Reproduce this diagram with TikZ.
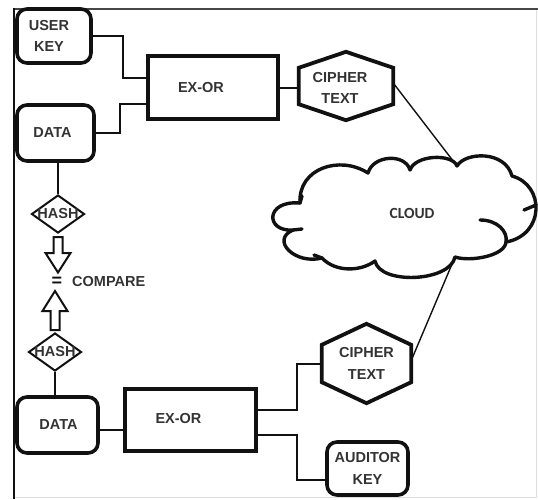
\documentclass[tikz,border=0pt]{standalone}
\usepackage{fontspec}
\setmainfont{Liberation Sans}
\newfontfamily\cloudfont{Carlito}
\usetikzlibrary{shapes.geometric,calc}
\definecolor{ink}{HTML}{111111}
\definecolor{txt}{HTML}{333333}
\begin{document}
\begin{tikzpicture}[x=1pt,y=-1pt,
  lbl/.style={font=\bfseries\fontsize{14.5}{21.5}\selectfont, text=txt, align=center},
  keybox/.style={lbl, draw=ink, line width=3.6pt, rounded corners=10pt, inner sep=0pt},
  xorbox/.style={lbl, draw=ink, line width=3.8pt, inner sep=0pt},
  hexlabel/.style={lbl, inner sep=0pt},
  hexline/.style={draw=ink, line width=3.8pt, line join=miter},
  hashbox/.style={diamond, draw=ink, line width=2pt, inner sep=0pt,
    label={[lbl]center:HASH}},
  cloudline/.style={draw=ink, line width=3.4pt, line cap=round, line join=round},
  wire/.style={draw=ink, line width=2pt},
  link/.style={draw=ink, line width=1.4pt},
  blockarrow/.style={draw=ink, line width=2pt, fill=white, line join=miter},
]
\useasboundingbox (0,0) rectangle (538,499);

% page frame
\draw[line width=0.8pt, gray!25] (536.5,9) -- (536.5,497.5) -- (14,497.5);
\draw[line width=2.4pt, gray!55!black] (13,9) -- (538,9);
\draw[line width=2pt, ink] (14,8) -- (14,499);

% upper (sending) side
\node[keybox, minimum width=74pt, minimum height=54pt,
  label={[lbl,xshift=-5pt]center:USER\\KEY}] (uk) at (54,36) {};
\node[keybox, minimum width=77pt, minimum height=56pt,
  label={[lbl,xshift=-3pt]center:DATA}] (data1) at (55.5,133) {};
\node[xorbox, minimum width=130pt, minimum height=63pt,
  label={[lbl,xshift=-12pt]center:EX-OR}] (ex1) at (213,87.5) {};
\node[hexlabel, minimum width=94pt, minimum height=68pt,
  label={[lbl,xshift=-6pt,yshift=-2pt]center:CIPHER\\TEXT}] (ct1) at (346,86) {};
\draw[hexline] (ct1.north) -- ($(ct1.north east)+(0,16)$) -- ($(ct1.south east)+(0,-16)$)
  -- (ct1.south) -- ($(ct1.south west)+(0,-16)$) -- ($(ct1.north west)+(0,16)$) -- cycle;

% cloud: hand-drawn outline made of puffs between notches
\node[font=\cloudfont\bfseries\fontsize{15.5}{18}\selectfont, text=txt, inner sep=0pt] (cl) at (412,213) {CLOUD};
\coordinate (cl-top) at (457,166);
\coordinate (cl-bot) at (455,257);
\draw[cloudline]
  (300,203) .. controls (298,168) and (340,155) .. (368,173)
  .. controls (373,155) and (405,153) .. (410,170)
  .. controls (415,155) and (452,153) .. (cl-top)
  .. controls (465,152) and (505,150) .. (512,176)
  .. controls (545,185) and (545,235) .. (506,242)
  .. controls (505,256) and (470,262) .. (cl-bot)
  .. controls (450,282) and (380,285) .. (375,261)
  .. controls (360,272) and (335,272) .. (322,258)
  .. controls (295,265) and (270,240) .. (293,230)
  .. controls (265,232) and (265,200) .. cycle;
% inner strokes of the cloud
\draw[cloudline] (480,220) .. controls (498,220) and (508,232) .. (506,242);
\draw[cloudline] (536,205) -- (524,210);
\draw[cloudline] (293,230) -- (302,229);
\draw[cloudline] (322,258) -- (314,255);
\draw[cloudline] (300,203) -- (302,196);

% lower (auditing) side
\node[keybox, minimum width=81pt, minimum height=56pt,
  label={[lbl,xshift=1pt]center:DATA}] (data2) at (57.5,425) {};
\node[xorbox, minimum width=131pt, minimum height=62pt,
  label={[lbl,xshift=-12pt,yshift=2pt]center:EX-OR}] (ex2) at (190.5,420) {};
\node[hexlabel, minimum width=89pt, minimum height=79pt,
  label={[lbl]center:CIPHER\\TEXT}] (ct2) at (366.5,363.5) {};
\draw[hexline] (ct2.north) -- ($(ct2.north east)+(0,21)$) -- ($(ct2.south east)+(0,-21)$)
  -- (ct2.south) -- ($(ct2.south west)+(0,-21)$) -- ($(ct2.north west)+(0,21)$) -- cycle;
\node[keybox, minimum width=81pt, minimum height=53pt,
  label={[lbl]center:AUDITOR\\KEY}] (ak) at (367.5,468.5) {};

% hash comparison
\node[hashbox, minimum width=53pt, minimum height=38pt] (hash1) at (58,214) {};
\node[hashbox, minimum width=53pt, minimum height=38pt] (hash2) at (55,352) {};
\node[inner sep=0pt, font=\bfseries\fontsize{18}{18}\selectfont, text=ink] (eq) at (57,282) {=};
\node[lbl, anchor=west, inner sep=0pt] (cmp) at (72,282) {COMPARE};

% connectors
\draw[wire] (uk.east) -- ++(30,0) |- ([yshift=9.5pt]ex1.west);
\draw[wire] (data1.east) -- ++(24,0) |- ([yshift=-16.5pt]ex1.west);
\draw[wire] (ex1.east) -- (ex1.east -| ct1.west);
\draw[wire] (hash1.north) -- (hash1.north |- data1.south);
\draw[wire] (hash2.south) -- (hash2.south |- data2.north);
\draw[wire] ([yshift=-5pt]data2.east) -- ([yshift=-5pt]data2.east -| ex2.west);
\draw[wire] ([yshift=10pt]ex2.east) -- ++(39,0) |- (ct2.west);
\draw[wire] ([yshift=-15pt]ex2.east) -- ++(39,0) |- ([yshift=-11.5pt]ak.west);
\draw[link] ([yshift=3pt]ct1.east) -- (cl-top);
\draw[link] ([yshift=3pt]ct2.east) -- (cl-bot);

% hollow arrows towards the comparison
\draw[blockarrow] ($(hash1.south)+(-4.5,3)$) -- ++(0,16) -- ++(-8,0)
  -- ($(hash1.south)+(0,38.5)$) -- ($(hash1.south)+(12.5,19)$) -- ++(-8,0) -- ++(0,-16) -- cycle;
\draw[blockarrow] ($(hash2.north)+(-4.5,-2)$) -- ++(0,-19) -- ++(-8,0)
  -- ($(hash2.north)+(0,-41)$) -- ($(hash2.north)+(12.5,-21)$) -- ++(-8,0) -- ++(0,19) -- cycle;
\end{tikzpicture}
\end{document}
